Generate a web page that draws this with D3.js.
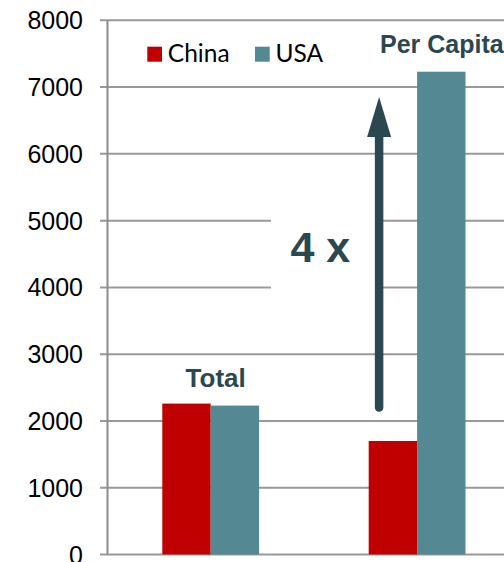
<!DOCTYPE html>
<html>
<head>
<meta charset="utf-8">
<script src="https://cdn.jsdelivr.net/npm/d3@7"></script>
<style>
  html, body { margin: 0; padding: 0; background: #fff; overflow: hidden; }
  svg { display: block; }
</style>
</head>
<body>
<svg id="chart" width="504" height="562"></svg>
<script>
// ---- data ----
const categories = ["Total", "Per Capita"];
const seriesNames = ["China", "USA"];
const chinaValues = [2260, 1700];
const usaValues = [2230, 7230];
const yTickValues = [0, 1000, 2000, 3000, 4000, 5000, 6000, 7000, 8000];
const seriesColors = ["#c00000", "#548893"];
const arrowFrom = 2200;
const arrowTo = 6850;
const multiplierLabel = "4 x";

// ---- layout ----
const svg = d3.select("#chart");
const W = 504, H = 562;
const axisX = 107.5;
const y = d3.scaleLinear().domain([0, 8000]).range([554.5, 20.3]);
const x = d3.scaleBand().domain(categories).range([axisX, 520.3]).padding(0);
const barW = 48.4;
const x1 = d3.scaleBand().domain(seriesNames).range([0, barW * 2]).padding(0);

const gridColor = "#999999";
const darkText = "#2b4750";

// gridlines
const grid = svg.append("g");
grid.selectAll("line").data(yTickValues).join("line")
  .attr("x1", 100).attr("x2", W)
  .attr("y1", d => y(d)).attr("y2", d => y(d))
  .attr("stroke", gridColor).attr("stroke-width", 2);

// y axis line
svg.append("line")
  .attr("x1", axisX).attr("x2", axisX)
  .attr("y1", y(8000)).attr("y2", y(0))
  .attr("stroke", "#8c8c8c").attr("stroke-width", 2);

// y tick labels
svg.append("g").selectAll("text").data(yTickValues).join("text")
  .attr("x", 83).attr("y", d => y(d)).attr("dy", "0.36em")
  .attr("text-anchor", "end")
  .attr("font-family", "Liberation Sans, Arial, sans-serif")
  .attr("font-size", 25).attr("fill", "#000")
  .text(d => d);

// bars
const rows = categories.map((c, i) => ({ cat: c, vals: [chinaValues[i], usaValues[i]] }));
const groups = svg.append("g").selectAll("g").data(rows).join("g")
  .attr("transform", d => `translate(${x(d.cat) + x.bandwidth() / 2 - barW},0)`);
groups.selectAll("rect").data(d => d.vals.map((v, j) => ({ s: seriesNames[j], v, j })))
  .join("rect")
  .attr("x", d => x1(d.s)).attr("width", x1.bandwidth())
  .attr("y", d => y(d.v)).attr("height", d => y(0) - y(d.v))
  .attr("fill", d => seriesColors[d.j]);

// white box behind multiplier label
const pcCenter = x("Per Capita") + x.bandwidth() / 2;
const arrowX = pcCenter - 38;
svg.append("rect")
  .attr("x", 271).attr("y", 190).attr("width", arrowX - 271).attr("height", 120)
  .attr("fill", "#fff");

// arrow
svg.append("line")
  .attr("x1", arrowX).attr("x2", arrowX)
  .attr("y1", y(arrowFrom)).attr("y2", y(arrowTo) + 36)
  .attr("stroke", darkText).attr("stroke-width", 8.5).attr("stroke-linecap", "round");
const tipY = y(arrowTo);
svg.append("path")
  .attr("d", `M${arrowX},${tipY} L${arrowX + 12},${tipY + 40} L${arrowX - 12},${tipY + 40} Z`)
  .attr("fill", darkText);

// multiplier label
svg.append("text")
  .attr("x", 290.5).attr("y", 262)
  .attr("font-family", "Liberation Sans, Arial, sans-serif")
  .attr("font-weight", "bold").attr("font-size", 43)
  .attr("fill", darkText)
  .text(multiplierLabel);

// category labels
const totalCenter = x("Total") + x.bandwidth() / 2;
svg.append("text")
  .attr("x", totalCenter + 5).attr("y", 387.3)
  .attr("text-anchor", "middle")
  .attr("font-family", "Liberation Sans, Arial, sans-serif")
  .attr("font-weight", "bold").attr("font-size", 26)
  .attr("fill", darkText)
  .text(categories[0]);
svg.append("text")
  .attr("x", 380).attr("y", 53)
  .attr("font-family", "Liberation Sans, Arial, sans-serif")
  .attr("font-weight", "bold").attr("font-size", 25)
  .attr("fill", darkText)
  .text(categories[1]);

// legend
const legendX = [147.3, 255];
const legend = svg.append("g").selectAll("g").data(seriesNames).join("g")
  .attr("transform", (d, i) => `translate(${legendX[i]},46.7)`);
legend.append("rect").attr("width", 14.7).attr("height", 15)
  .attr("fill", (d, i) => seriesColors[i]);
legend.append("text")
  .attr("x", 20.5).attr("y", 15.2)
  .attr("font-family", "Lato, 'Open Sans', sans-serif")
  .attr("font-size", 24.5).attr("fill", "#000")
  .text(d => d);
</script>
</body>
</html>
